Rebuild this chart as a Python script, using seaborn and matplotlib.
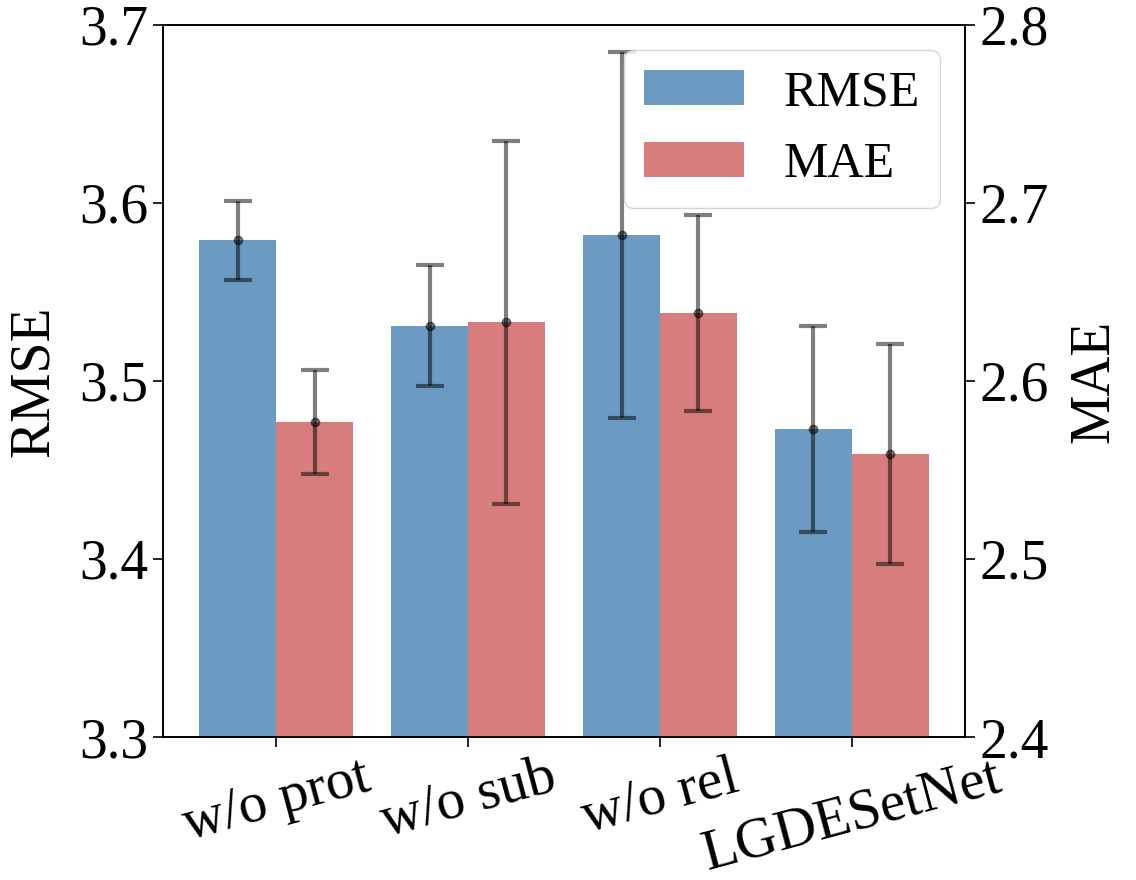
import numpy as np
import pandas as pd
import seaborn as sns
import matplotlib.pyplot as plt
from matplotlib.patches import Patch

models = ['w/o prot', 'w/o sub', 'w/o rel', 'LGDESetNet']
rmse = [3.579, 3.531, 3.582, 3.473]
rmse_err = [0.022, 0.034, 0.103, 0.058]
mae = [2.577, 2.633, 2.638, 2.559]
mae_err = [0.029, 0.102, 0.055, 0.062]

metrics = ['RMSE', 'MAE']
colors = {'RMSE': 'steelblue', 'MAE': 'indianred'}

plt.rcParams['font.family'] = ['Liberation Serif', 'DejaVu Serif']

df_rmse = pd.DataFrame({'model': models, 'value': rmse, 'metric': 'RMSE'})
df_mae = pd.DataFrame({'model': models, 'value': mae, 'metric': 'MAE'})

fig, ax = plt.subplots(figsize=(11.36, 8.8), dpi=100)
fig.subplots_adjust(left=0.1435, right=0.8495, top=0.9716, bottom=0.1625)
ax2 = ax.twinx()

# both metrics share the hue order, dodge=True keeps the slot of the other one free
sns.barplot(data=df_rmse, x='model', y='value', hue='metric', hue_order=metrics,
            palette=colors, alpha=0.8, saturation=1, errorbar=None, dodge=True,
            legend=False, linewidth=0, ax=ax)
sns.barplot(data=df_mae, x='model', y='value', hue='metric', hue_order=metrics,
            palette=colors, alpha=0.8, saturation=1, errorbar=None, dodge=True,
            legend=False, linewidth=0, ax=ax2)

err_kw = dict(fmt='o', color='black', alpha=0.5, ms=6, elinewidth=3,
              capsize=10, capthick=3)
x_r = [p.get_x() + p.get_width() / 2 for p in ax.patches]
x_m = [p.get_x() + p.get_width() / 2 for p in ax2.patches]
ax.errorbar(x_r, rmse, yerr=rmse_err, **err_kw)
ax2.errorbar(x_m, mae, yerr=mae_err, **err_kw)

ax.set_ylim(3.3, 3.7)
ax2.set_ylim(2.4, 2.8)
ax.set_yticks(np.arange(3.3, 3.71, 0.1))
ax2.set_yticks(np.arange(2.4, 2.81, 0.1))
ax.set_xlim(-0.59, 3.59)

ax.set_xticks(range(len(models)))
ax.set_xticklabels(models, rotation=15, fontsize=41)
ax.set_xlabel('')
ax2.set_xlabel('')
ax.set_ylabel('RMSE', fontsize=40, labelpad=14)
ax2.set_ylabel('MAE', fontsize=40, labelpad=14)

for a in (ax, ax2):
    a.tick_params(labelsize=40, length=7, width=1.2)
    for s in a.spines.values():
        s.set_linewidth(1.2)
ax.tick_params(axis='x', labelsize=41)

handles = [Patch(facecolor=colors[m], alpha=0.8) for m in metrics]
ax2.legend(handles, metrics, loc='upper right', fontsize=36)

plt.savefig('out.png', dpi=100)
